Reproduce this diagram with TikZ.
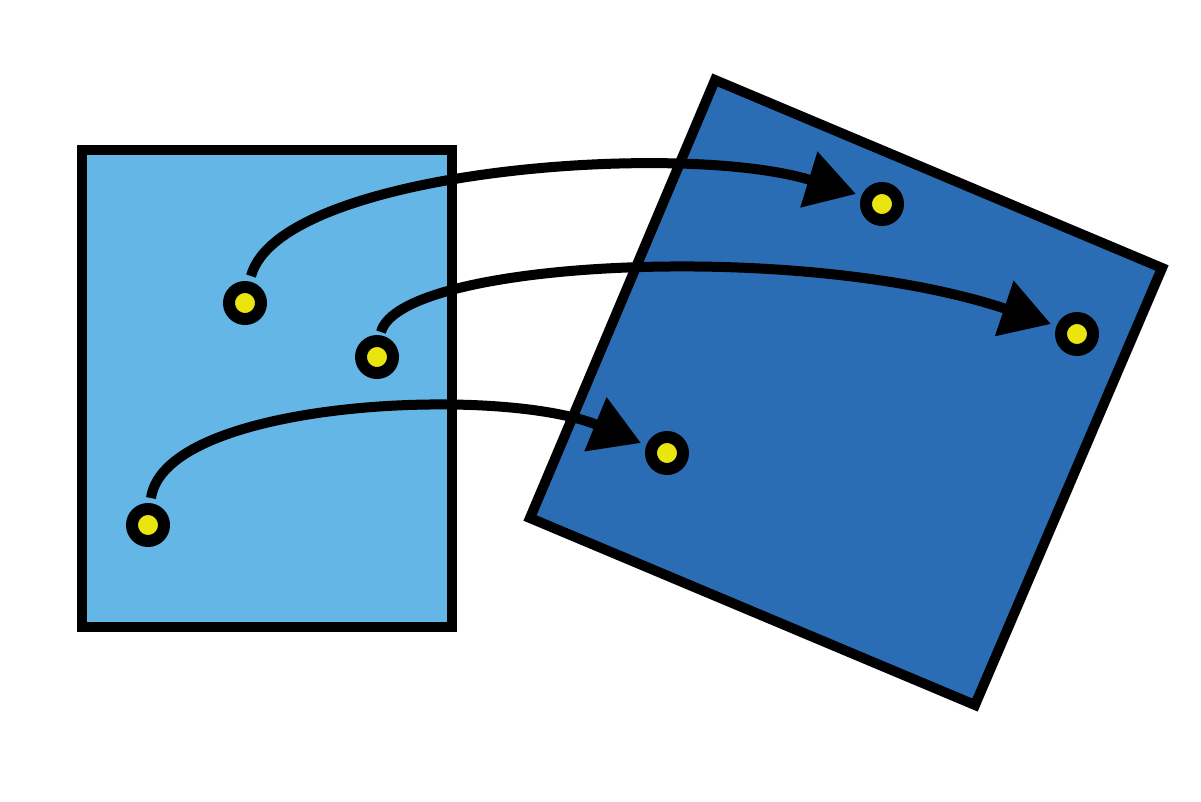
\documentclass[tikz,border=0pt]{standalone}
\usetikzlibrary{arrows.meta}
\definecolor{lightblue}{HTML}{63B6E6}
\definecolor{darkblue}{HTML}{2B6DB5}
\definecolor{dotyellow}{HTML}{EBE50F}
\tikzset{
  panel/.style={draw=black, line width=7.5pt, line join=miter},
  pt/.style={circle, draw=black, fill=dotyellow, line width=9pt, minimum size=24pt, inner sep=0pt},
  link/.style={draw=black, line width=7.5pt, -{Triangle[length=37pt,width=42pt]}}
}
\begin{document}
\begin{tikzpicture}[x=0.75pt,y=-0.75pt]
\useasboundingbox (0,0) rectangle (1201,801);
\draw[panel, fill=lightblue] (82,150) rectangle (452,627);
\coordinate (r1) at (715,80);
\coordinate (r2) at (1162,268);
\coordinate (r3) at (975,705);
\coordinate (r4) at (530,518);
\draw[panel, fill=darkblue] (r1) -- (r2) -- (r3) -- (r4) -- cycle;
\node[pt] (a1) at (245,303) {};
\node[pt] (a2) at (377,357) {};
\node[pt] (a3) at (148,525) {};
\node[pt] (b1) at (882,204) {};
\node[pt] (b2) at (1077,334) {};
\node[pt] (b3) at (667,453) {};
\coordinate (s1) at (251,276);
\coordinate (s2) at (381,332);
\coordinate (s3) at (151,498);
\coordinate (t1) at (856,194);
\coordinate (t2) at (1051,324);
\coordinate (t3) at (641,443);
\draw[link] (s1) .. controls (280,170) and (680,140) .. (t1);
\draw[link] (s2) .. controls (400,260) and (800,240) .. (t2);
\draw[link] (s3) .. controls (165,400) and (500,385) .. (t3);
\end{tikzpicture}
\end{document}
